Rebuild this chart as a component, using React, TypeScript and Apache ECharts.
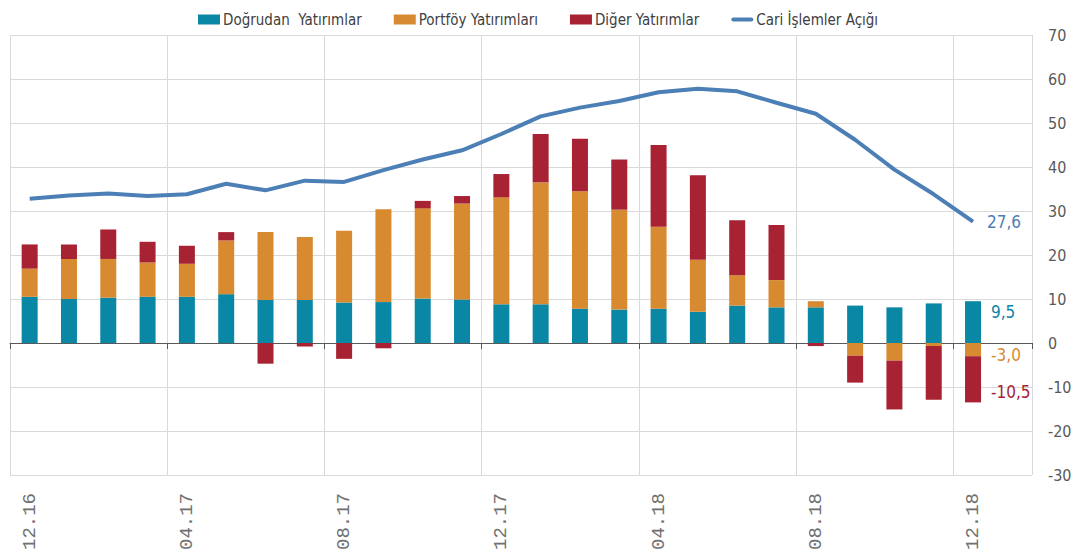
import React, { useEffect, useRef } from "react";
import * as echarts from "echarts";

const categories = [
  "12.16", "01.17", "02.17", "03.17", "04.17", "05.17", "06.17", "07.17",
  "08.17", "09.17", "10.17", "11.17", "12.17", "01.18", "02.18", "03.18",
  "04.18", "05.18", "06.18", "07.18", "08.18", "09.18", "10.18", "11.18",
  "12.18", "",
];
const tickLabels = ["12.16", "04.17", "08.17", "12.17", "04.18", "08.18", "12.18"];

const dogrudan = [
  10.5, 10.0, 10.3, 10.5, 10.5, 11.1, 9.8, 9.8, 9.2, 9.3, 10.1, 9.9, 8.8,
  8.8, 7.8, 7.6, 7.8, 7.1, 8.5, 8.1, 8.1, 8.5, 8.1, 9.0, 9.5,
];
const portfoy = [
  6.4, 9.1, 8.8, 7.8, 7.5, 12.2, 15.4, 14.3, 16.3, 21.1, 20.5, 21.8, 24.3,
  27.7, 26.7, 22.7, 18.6, 11.8, 6.9, 6.2, 1.4, -2.9, -4.0, -0.7, -3.0,
];
const diger = [
  5.5, 3.3, 6.7, 4.7, 4.1, 1.9, -4.7, -0.8, -3.6, -1.2, 1.7, 1.7, 5.3, 11.0,
  11.9, 11.4, 18.6, 19.2, 12.5, 12.5, -0.7, -6.1, -11.1, -12.2, -10.5,
];
const cariAcik = [
  32.8, 33.5, 34.0, 33.4, 33.8, 36.2, 34.7, 36.9, 36.6, 39.3, 41.7, 43.8,
  47.5, 51.5, 53.5, 55.0, 57.0, 57.8, 57.2, 54.6, 52.1, 46.2, 39.4, 33.8,
  27.6,
];

const C_TEAL = "#0A87A5";
const C_ORANGE = "#D78A2F";
const C_RED = "#A72232";
const C_LINE = "#4C7FB5";
const NARROW = "'Liberation Sans Narrow', 'DejaVu Sans Condensed', 'Liberation Sans', sans-serif";

const fmt = (v: number) => v.toFixed(1).replace(".", ",");
const every4 = (i: number) => i % 4 === 0;

function withEndLabel(arr: number[], color: string, offsetY: number) {
  return arr.map((v, i) =>
    i === arr.length - 1
      ? {
          value: v,
          label: {
            show: true,
            position: "right",
            distance: 10,
            offset: [0, offsetY],
            color,
            fontSize: 17,
            fontFamily: NARROW,
            formatter: (p: any) => fmt(p.value),
          },
        }
      : v
  );
}

export default function App() {
  const ref = useRef<HTMLDivElement>(null);
  useEffect(() => {
    if (!ref.current) return;
    const chart = echarts.init(ref.current, undefined, { renderer: "svg" });
    chart.setOption({
      animation: false,
      backgroundColor: "#ffffff",
      grid: { left: 10, right: 44, top: 35, bottom: 82, containLabel: false },
      legend: {
        top: 7,
        left: 193,
        itemWidth: 22,
        itemHeight: 10,
        itemGap: 32,
        textStyle: { fontSize: 15, color: "#404040", fontFamily: NARROW, padding: [0, 0, 0, -2] },
        data: [
          { name: "Doğrudan  Yatırımlar", icon: "rect" },
          { name: "Portföy Yatırımları", icon: "rect" },
          { name: "Diğer Yatırımlar", icon: "rect" },
          {
            name: "Cari İşlemler Açığı",
            icon: "path://M2,0 L20,0 A2,2 0 0 1 20,4 L2,4 A2,2 0 0 1 2,0 Z",
          },
        ],
      },
      xAxis: [
        {
          type: "category",
          data: categories,
          position: "bottom",
          axisLine: { show: false, onZero: false },
          axisTick: { show: false },
          axisLabel: {
            interval: 0,
            rotate: 90,
            margin: 18,
            color: "#707070",
            fontSize: 19,
            fontFamily: "'Liberation Mono', 'DejaVu Sans Mono', monospace",
            formatter: (v: string) => (tickLabels.indexOf(v) >= 0 ? v : ""),
          },
          splitLine: {
            show: true,
            interval: every4,
            lineStyle: { color: "#d9d9d9", width: 1 },
          },
        },
        {
          type: "category",
          data: categories,
          position: "top",
          axisLine: { show: true, onZero: true, lineStyle: { color: "#595959", width: 1 } },
          axisTick: {
            show: true,
            inside: true,
            interval: every4,
            length: 6,
            lineStyle: { color: "#595959" },
          },
          axisLabel: { show: false },
          splitLine: { show: false },
        },
      ],
      yAxis: {
        type: "value",
        position: "right",
        min: -30,
        max: 70,
        interval: 10,
        axisLine: { show: false },
        axisTick: { show: false },
        axisLabel: { color: "#595959", fontSize: 16, margin: 16, fontFamily: NARROW },
        splitLine: { lineStyle: { color: "#d9d9d9", width: 1 } },
      },
      series: [
        {
          name: "Doğrudan  Yatırımlar",
          type: "bar",
          stack: "yat",
          barWidth: 16,
          itemStyle: { color: C_TEAL },
          data: withEndLabel(dogrudan, C_TEAL, -10),
        },
        {
          name: "Portföy Yatırımları",
          type: "bar",
          stack: "yat",
          barWidth: 16,
          itemStyle: { color: C_ORANGE },
          data: withEndLabel(portfoy, C_ORANGE, 5),
        },
        {
          name: "Diğer Yatırımlar",
          type: "bar",
          stack: "yat",
          barWidth: 16,
          itemStyle: { color: C_RED },
          data: withEndLabel(diger, C_RED, 13),
        },
        {
          name: "Cari İşlemler Açığı",
          type: "line",
          symbol: "none",
          lineStyle: { color: C_LINE, width: 4 },
          itemStyle: { color: C_LINE },
          z: 5,
          endLabel: {
            show: true,
            distance: 14,
            color: C_LINE,
            fontSize: 17,
            fontFamily: NARROW,
            formatter: (p: any) => fmt(p.value),
          },
          data: cariAcik,
        },
      ],
    });
    return () => chart.dispose();
  }, []);
  return (
    <div
      ref={ref}
      style={{ position: "fixed", left: 0, top: 0, width: 1076, height: 557 }}
    />
  );
}
